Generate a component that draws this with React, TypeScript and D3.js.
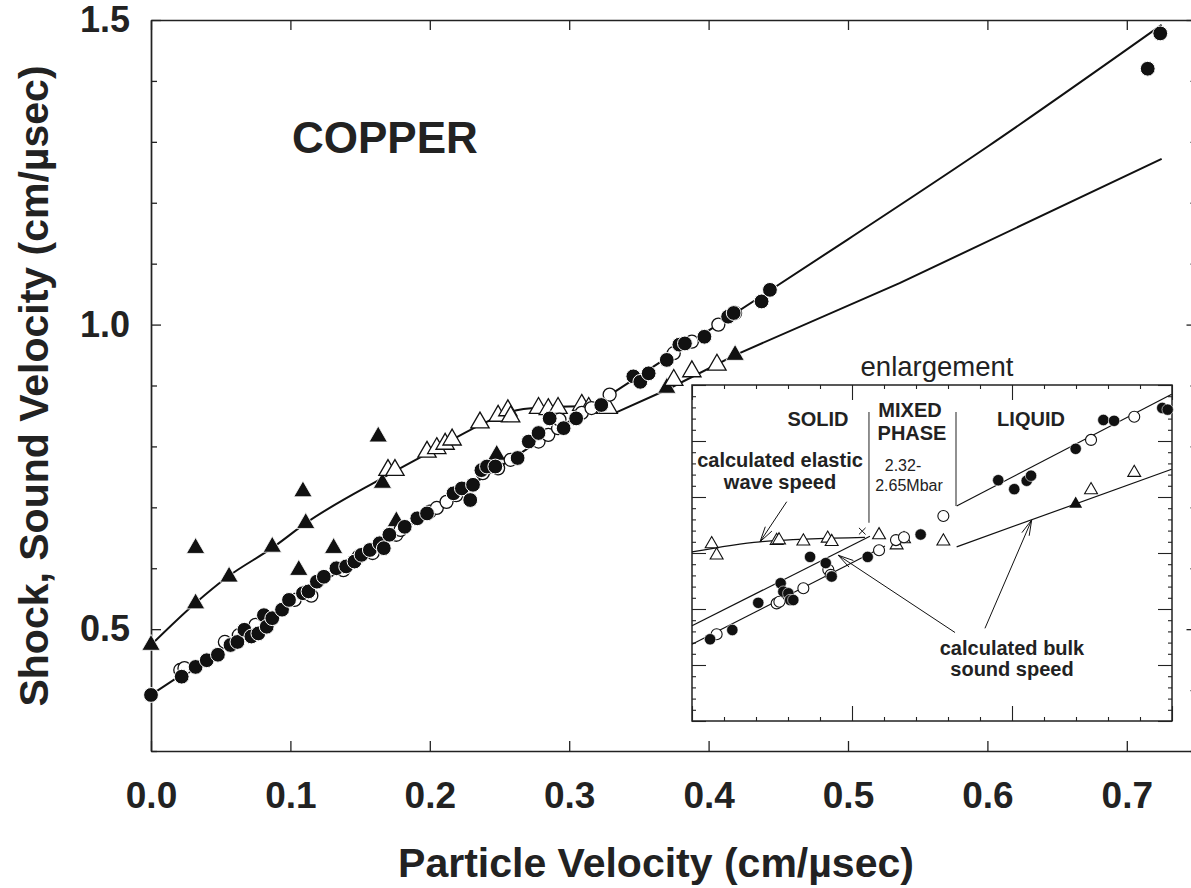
import React, { useEffect, useRef } from "react";
import * as d3 from "d3";

type Pt = [number, number];

// ---- main plot data (particle velocity, velocity) in cm/usec ----
const xTickValues = [0, 0.1, 0.2, 0.3, 0.4, 0.5, 0.6, 0.7];
const yMajorValues = [0.5, 1.0, 1.5];
const yMinorValues = [0.3, 0.4, 0.6, 0.7, 0.8, 0.9, 1.1, 1.2, 1.3, 1.4];

const shockFilled: Pt[] = [
  [0.0, 0.392], [0.022, 0.422], [0.032, 0.438], [0.04, 0.449], [0.048, 0.458],
  [0.057, 0.474], [0.062, 0.479], [0.067, 0.499], [0.072, 0.488], [0.077, 0.493],
  [0.081, 0.523], [0.083, 0.504], [0.087, 0.518], [0.094, 0.532], [0.099, 0.548],
  [0.109, 0.559], [0.113, 0.562], [0.119, 0.578], [0.124, 0.586], [0.133, 0.6],
  [0.14, 0.603], [0.146, 0.611], [0.151, 0.622], [0.157, 0.63], [0.164, 0.641],
  [0.167, 0.633], [0.171, 0.655], [0.182, 0.668], [0.191, 0.682], [0.198, 0.69],
  [0.217, 0.723], [0.223, 0.731], [0.229, 0.712], [0.231, 0.737], [0.237, 0.761],
  [0.241, 0.767], [0.247, 0.767], [0.263, 0.781], [0.271, 0.808], [0.278, 0.822],
  [0.286, 0.846], [0.296, 0.83], [0.305, 0.846], [0.323, 0.868], [0.346, 0.915],
  [0.351, 0.906], [0.357, 0.92], [0.37, 0.942], [0.379, 0.967], [0.383, 0.969],
  [0.397, 0.98], [0.414, 1.013], [0.418, 1.019], [0.438, 1.038], [0.444, 1.057],
  [0.715, 1.42], [0.724, 1.478],
];

const shockOpen: Pt[] = [
  [0.021, 0.433], [0.024, 0.436], [0.053, 0.479], [0.063, 0.49], [0.075, 0.507],
  [0.103, 0.548], [0.115, 0.555], [0.138, 0.597], [0.149, 0.619], [0.159, 0.625],
  [0.176, 0.655], [0.179, 0.663], [0.2, 0.693], [0.205, 0.699], [0.212, 0.709],
  [0.219, 0.72], [0.238, 0.756], [0.249, 0.764], [0.258, 0.778], [0.278, 0.808],
  [0.285, 0.819], [0.292, 0.83], [0.293, 0.844], [0.309, 0.855], [0.316, 0.863],
  [0.329, 0.885], [0.375, 0.953], [0.388, 0.972], [0.407, 1.0], [0.419, 1.019],
];

const soundFilled: Pt[] = [
  [0.0, 0.474], [0.032, 0.633], [0.032, 0.542], [0.056, 0.586], [0.087, 0.635],
  [0.109, 0.726], [0.111, 0.674], [0.106, 0.597], [0.131, 0.633], [0.163, 0.816],
  [0.166, 0.74], [0.176, 0.677], [0.248, 0.786], [0.37, 0.896], [0.419, 0.95],
];

const soundOpen: Pt[] = [
  [0.17, 0.761], [0.175, 0.761], [0.198, 0.791], [0.205, 0.797], [0.211, 0.804],
  [0.216, 0.811], [0.236, 0.839], [0.249, 0.85], [0.256, 0.859], [0.258, 0.849],
  [0.278, 0.863], [0.285, 0.861], [0.292, 0.863], [0.309, 0.868], [0.314, 0.863],
  [0.328, 0.863], [0.375, 0.909], [0.388, 0.923], [0.406, 0.934],
];

const shockFit: Pt[] = [
  [0, 0.392], [0.1, 0.543], [0.2, 0.692], [0.3, 0.841], [0.4, 0.99],
  [0.5, 1.14], [0.6, 1.292], [0.725, 1.492],
];

// elastic (solid) branch, then bulk sound (liquid) branch after the kink
const soundFitSolid: Pt[] = [
  [0, 0.474], [0.032, 0.543], [0.055, 0.586], [0.088, 0.635], [0.111, 0.674],
  [0.166, 0.748], [0.198, 0.788], [0.236, 0.835], [0.258, 0.857], [0.279, 0.864],
  [0.309, 0.866],
];
const soundFitLiquid: Pt[] = [
  [0.309, 0.866], [0.333, 0.855], [0.37, 0.893], [0.419, 0.95], [0.537, 1.068],
  [0.725, 1.272],
];

// ---- enlargement inset data ----
const insetXMajor = [0.2, 0.3, 0.4, 0.5];
const insetYMajor = [0.6, 0.7, 0.8, 0.9, 1.0, 1.1, 1.2];

const insetShockFilled: Pt[] = [
  [0.2113, 0.746], [0.2252, 0.7625], [0.2414, 0.811], [0.2554, 0.846], [0.2571, 0.831],
  [0.2602, 0.828], [0.2613, 0.816], [0.2633, 0.816], [0.2738, 0.893], [0.2836, 0.882],
  [0.2873, 0.858], [0.3098, 0.893], [0.3429, 0.933], [0.3914, 1.03], [0.4014, 1.014],
  [0.4092, 1.029], [0.4119, 1.038], [0.4398, 1.086], [0.4571, 1.1375], [0.4638, 1.136],
  [0.4939, 1.159], [0.4973, 1.156],
];

const insetShockOpen: Pt[] = [
  [0.2154, 0.755], [0.2529, 0.81], [0.2546, 0.813], [0.2696, 0.837], [0.2852, 0.87],
  [0.2867, 0.861], [0.3169, 0.905], [0.3275, 0.923], [0.3325, 0.928], [0.3571, 0.966],
  [0.4494, 1.102], [0.4764, 1.1434],
];

const insetSoundOpen: Pt[] = [
  [0.2123, 0.916], [0.2154, 0.896], [0.2529, 0.922], [0.2544, 0.923], [0.2696, 0.921],
  [0.2848, 0.926], [0.2873, 0.92], [0.3169, 0.932], [0.3279, 0.914], [0.3325, 0.925],
  [0.3571, 0.921], [0.4494, 1.0125], [0.4764, 1.0434],
];

const insetSoundFilled: Pt[] = [[0.4398, 0.9875]];
const insetCross: Pt[] = [[0.3064, 0.939]];

const insetElasticFit: Pt[] = [[0.2, 0.902], [0.2425, 0.92], [0.3081, 0.928]];
const insetBulkSolidFit: Pt[] = [[0.2, 0.77], [0.3112, 0.93]];
const insetShockSolidFit: Pt[] = [[0.2, 0.737], [0.3206, 0.9125]];
const insetShockLiquidFit: Pt[] = [[0.3654, 0.984], [0.4998, 1.1834]];
const insetBulkLiquidFit: Pt[] = [[0.3654, 0.911], [0.4998, 1.0495]];
const insetPhaseBounds: Pt[][] = [
  [[0.3106, 1.152], [0.3106, 0.954]],
  [[0.365, 1.152], [0.365, 0.984]],
];
const insetArrows: Pt[][] = [
  [[0.2592, 0.9916], [0.2425, 0.92]],
  [[0.3644, 0.758], [0.2914, 0.896]],
  [[0.3831, 0.7655], [0.4123, 0.959]],
];

const FONT = "'Liberation Sans', Arial, Helvetica, sans-serif";
const INK = "#222";

function drawChart(svgEl: SVGSVGElement) {
  const svg = d3.select(svgEl);
  svg.selectAll("*").remove();

  const x = d3.scaleLinear().domain([0, 0.75]).range([151, 1196.5]);
  const y = d3.scaleLinear().domain([0.3, 1.5]).range([751, 20]);

  const styleAxis = (g: any) => {
    g.attr("font-family", FONT).attr("font-size", null);
    g.select(".domain").attr("stroke", INK).attr("stroke-width", 1.4);
    g.selectAll(".tick line").attr("stroke", INK).attr("stroke-width", 1.3);
  };

  // bottom axis with labels
  const bottom = svg.append("g").attr("transform", `translate(0,${y(0.3)})`)
    .call(d3.axisBottom(x).tickValues(xTickValues).tickSizeInner(-10).tickSizeOuter(0)
      .tickPadding(31).tickFormat((d: any) => d3.format(".1f")(d)));
  styleAxis(bottom);
  bottom.selectAll("text").attr("font-size", 37).attr("font-weight", "bold").attr("fill", INK);

  const top = svg.append("g").attr("transform", `translate(0,${y(1.5)})`)
    .call(d3.axisTop(x).tickValues(xTickValues).tickSizeInner(-10).tickSizeOuter(0).tickFormat(() => ""));
  styleAxis(top);

  const left = svg.append("g").attr("transform", `translate(${x(0)},0)`)
    .call(d3.axisLeft(y).tickValues(yMajorValues).tickSizeInner(-10).tickSizeOuter(0)
      .tickPadding(21).tickFormat((d: any) => d3.format(".1f")(d)));
  styleAxis(left);
  left.selectAll("text").attr("font-size", 36).attr("font-weight", "bold").attr("fill", INK);
  const leftMinor = svg.append("g").attr("transform", `translate(${x(0)},0)`)
    .call(d3.axisLeft(y).tickValues(yMinorValues).tickSizeInner(-6).tickSizeOuter(0).tickFormat(() => ""));
  styleAxis(leftMinor);

  const right = svg.append("g").attr("transform", `translate(${x(0.75)},0)`)
    .call(d3.axisRight(y).tickValues(yMajorValues).tickSizeInner(-10).tickSizeOuter(0).tickFormat(() => ""));
  styleAxis(right);
  const rightMinor = svg.append("g").attr("transform", `translate(${x(0.75)},0)`)
    .call(d3.axisRight(y).tickValues(yMinorValues).tickSizeInner(-6).tickSizeOuter(0).tickFormat(() => ""));
  styleAxis(rightMinor);

  // axis titles
  svg.append("text")
    .attr("x", 656).attr("y", 877)
    .attr("text-anchor", "middle")
    .attr("font-family", FONT).attr("font-size", 41).attr("font-weight", "bold").attr("fill", INK)
    .text("Particle Velocity (cm/µsec)");
  svg.append("text")
    .attr("transform", "translate(48,386) rotate(-90)")
    .attr("text-anchor", "middle")
    .attr("font-family", FONT).attr("font-size", 41).attr("font-weight", "bold").attr("fill", INK)
    .text("Shock, Sound Velocity (cm/µsec)");
  svg.append("text")
    .attr("x", 292).attr("y", 153)
    .attr("font-family", FONT).attr("font-size", 44).attr("font-weight", "bold").attr("fill", INK)
    .text("COPPER");

  // fitted lines
  const smooth = d3.line<Pt>().x(d => x(d[0])).y(d => y(d[1])).curve(d3.curveMonotoneX);
  const straight = d3.line<Pt>().x(d => x(d[0])).y(d => y(d[1]));
  svg.append("path").datum(shockFit).attr("d", smooth)
    .attr("fill", "none").attr("stroke", "#111").attr("stroke-width", 2);
  svg.append("path").datum(soundFitSolid).attr("d", smooth)
    .attr("fill", "none").attr("stroke", "#111").attr("stroke-width", 2);
  svg.append("path").datum(soundFitLiquid).attr("d", straight)
    .attr("fill", "none").attr("stroke", "#111").attr("stroke-width", 2)
    .attr("stroke-linejoin", "round");

  const tri = d3.symbol().type(d3.symbolTriangle).size(145);

  svg.append("g").selectAll("path").data(soundFilled).join("path")
    .attr("d", tri as any)
    .attr("transform", d => `translate(${x(d[0])},${y(d[1])})`)
    .attr("fill", "#111").attr("stroke", "#fff").attr("stroke-width", 0.8);
  svg.append("g").selectAll("path").data(soundOpen).join("path")
    .attr("d", tri as any)
    .attr("transform", d => `translate(${x(d[0])},${y(d[1])})`)
    .attr("fill", "#fff").attr("stroke", "#111").attr("stroke-width", 1.3);

  svg.append("g").selectAll("circle").data(shockOpen).join("circle")
    .attr("cx", d => x(d[0])).attr("cy", d => y(d[1])).attr("r", 6.5)
    .attr("fill", "#fff").attr("stroke", "#111").attr("stroke-width", 1.3);
  svg.append("g").selectAll("circle").data(shockFilled).join("circle")
    .attr("cx", d => x(d[0])).attr("cy", d => y(d[1])).attr("r", 7.4)
    .attr("fill", "#111").attr("stroke", "#fff").attr("stroke-width", 1);

  // ---- enlargement inset ----
  const ix = d3.scaleLinear().domain([0.2, 0.5]).range([692, 1172]);
  const iy = d3.scaleLinear().domain([0.6, 1.2]).range([721, 385]);
  const inset = svg.append("g");
  inset.append("rect")
    .attr("x", ix(0.2)).attr("y", iy(1.2))
    .attr("width", ix(0.5) - ix(0.2)).attr("height", iy(0.6) - iy(1.2))
    .attr("fill", "#fff").attr("stroke", INK).attr("stroke-width", 1.5);

  const xMinor = d3.range(0.2, 0.5001, 0.02).filter(v => Math.abs(Math.round(v * 10) - v * 10) > 1e-6);
  const yMinor = d3.range(0.6, 1.2001, 0.02).filter(v => Math.abs(Math.round(v * 10) - v * 10) > 1e-6);
  const insetAxis = (axis: any, tx: string) => {
    const g = inset.append("g").attr("transform", tx).call(axis);
    g.select(".domain").remove();
    g.selectAll(".tick line").attr("stroke", INK).attr("stroke-width", 1.1);
  };
  const noLab = () => "";
  insetAxis(d3.axisTop(ix).tickValues(insetXMajor).tickSizeInner(-15).tickFormat(noLab), `translate(0,${iy(1.2)})`);
  insetAxis(d3.axisTop(ix).tickValues(xMinor).tickSizeInner(-4).tickFormat(noLab), `translate(0,${iy(1.2)})`);
  insetAxis(d3.axisBottom(ix).tickValues(insetXMajor).tickSizeInner(-15).tickFormat(noLab), `translate(0,${iy(0.6)})`);
  insetAxis(d3.axisBottom(ix).tickValues(xMinor).tickSizeInner(-4).tickFormat(noLab), `translate(0,${iy(0.6)})`);
  insetAxis(d3.axisLeft(iy).tickValues(insetYMajor).tickSizeInner(-14).tickFormat(noLab), `translate(${ix(0.2)},0)`);
  insetAxis(d3.axisLeft(iy).tickValues(yMinor).tickSizeInner(-4).tickFormat(noLab), `translate(${ix(0.2)},0)`);
  insetAxis(d3.axisRight(iy).tickValues(insetYMajor).tickSizeInner(-14).tickFormat(noLab), `translate(${ix(0.5)},0)`);
  insetAxis(d3.axisRight(iy).tickValues(yMinor).tickSizeInner(-4).tickFormat(noLab), `translate(${ix(0.5)},0)`);

  const iline = d3.line<Pt>().x(d => ix(d[0])).y(d => iy(d[1])).curve(d3.curveMonotoneX);
  [insetElasticFit, insetBulkSolidFit, insetShockSolidFit, insetShockLiquidFit, insetBulkLiquidFit]
    .forEach(seg => {
      inset.append("path").datum(seg).attr("d", iline)
        .attr("fill", "none").attr("stroke", "#111").attr("stroke-width", 1.2);
    });
  insetPhaseBounds.forEach(seg => {
    inset.append("line")
      .attr("x1", ix(seg[0][0])).attr("y1", iy(seg[0][1]))
      .attr("x2", ix(seg[1][0])).attr("y2", iy(seg[1][1]))
      .attr("stroke", "#555").attr("stroke-width", 1.3);
  });

  // arrows
  insetArrows.forEach(a => {
    const x1 = ix(a[0][0]), y1 = iy(a[0][1]), x2 = ix(a[1][0]), y2 = iy(a[1][1]);
    const ang = Math.atan2(y2 - y1, x2 - x1);
    const L = 16, s = 0.25;
    inset.append("line").attr("x1", x1).attr("y1", y1).attr("x2", x2).attr("y2", y2)
      .attr("stroke", "#111").attr("stroke-width", 1);
    inset.append("path")
      .attr("d", `M${x2 - L * Math.cos(ang - s)},${y2 - L * Math.sin(ang - s)}L${x2},${y2}L${x2 - L * Math.cos(ang + s)},${y2 - L * Math.sin(ang + s)}`)
      .attr("fill", "none").attr("stroke", "#111").attr("stroke-width", 1);
  });

  const itri = d3.symbol().type(d3.symbolTriangle).size(72);
  inset.append("g").selectAll("path").data(insetSoundOpen).join("path")
    .attr("d", itri as any)
    .attr("transform", d => `translate(${ix(d[0])},${iy(d[1])})`)
    .attr("fill", "#fff").attr("stroke", "#111").attr("stroke-width", 1.1);
  inset.append("g").selectAll("path").data(insetSoundFilled).join("path")
    .attr("d", itri as any)
    .attr("transform", d => `translate(${ix(d[0])},${iy(d[1])})`)
    .attr("fill", "#111");
  inset.append("g").selectAll("circle").data(insetShockOpen).join("circle")
    .attr("cx", d => ix(d[0])).attr("cy", d => iy(d[1])).attr("r", 5.5)
    .attr("fill", "#fff").attr("stroke", "#111").attr("stroke-width", 1.1);
  inset.append("g").selectAll("circle").data(insetShockFilled).join("circle")
    .attr("cx", d => ix(d[0])).attr("cy", d => iy(d[1])).attr("r", 5.7)
    .attr("fill", "#111").attr("stroke", "#fff").attr("stroke-width", 0.6);
  const cross = d3.symbol().type(d3.symbolX).size(30);
  inset.append("g").selectAll("path").data(insetCross).join("path")
    .attr("d", cross as any)
    .attr("transform", d => `translate(${ix(d[0])},${iy(d[1])})`)
    .attr("fill", "none").attr("stroke", "#111").attr("stroke-width", 1);

  // inset labels
  const label = (tx: number, ty: number, txt: string, size: number, bold: boolean) =>
    svg.append("text").attr("x", tx).attr("y", ty).attr("text-anchor", "middle")
      .attr("font-family", FONT).attr("font-size", size)
      .attr("font-weight", bold ? "bold" : "normal").attr("fill", INK).text(txt);
  label(937, 376, "enlargement", 27.5, false);
  label(818, 426, "SOLID", 20, true);
  label(910, 417, "MIXED", 20, true);
  label(912, 439.5, "PHASE", 20, true);
  label(1031, 426, "LIQUID", 20, true);
  label(780, 467, "calculated elastic", 20, true);
  label(780, 489, "wave speed", 20, true);
  label(903, 471, "2.32-", 16, false);
  label(909, 491, "2.65Mbar", 16, false);
  label(1012, 655, "calculated bulk", 20, true);
  label(1012, 676, "sound speed", 20, true);
}

const App = () => {
  const svgRef = useRef<SVGSVGElement>(null);

  useEffect(() => {
    if (svgRef.current) drawChart(svgRef.current);
  }, []);

  return (
    <svg
      ref={svgRef}
      width={1191}
      height={888}
      style={{ position: "absolute", left: 0, top: 0, background: "#fff" }}
    />
  );
};

export default App;
